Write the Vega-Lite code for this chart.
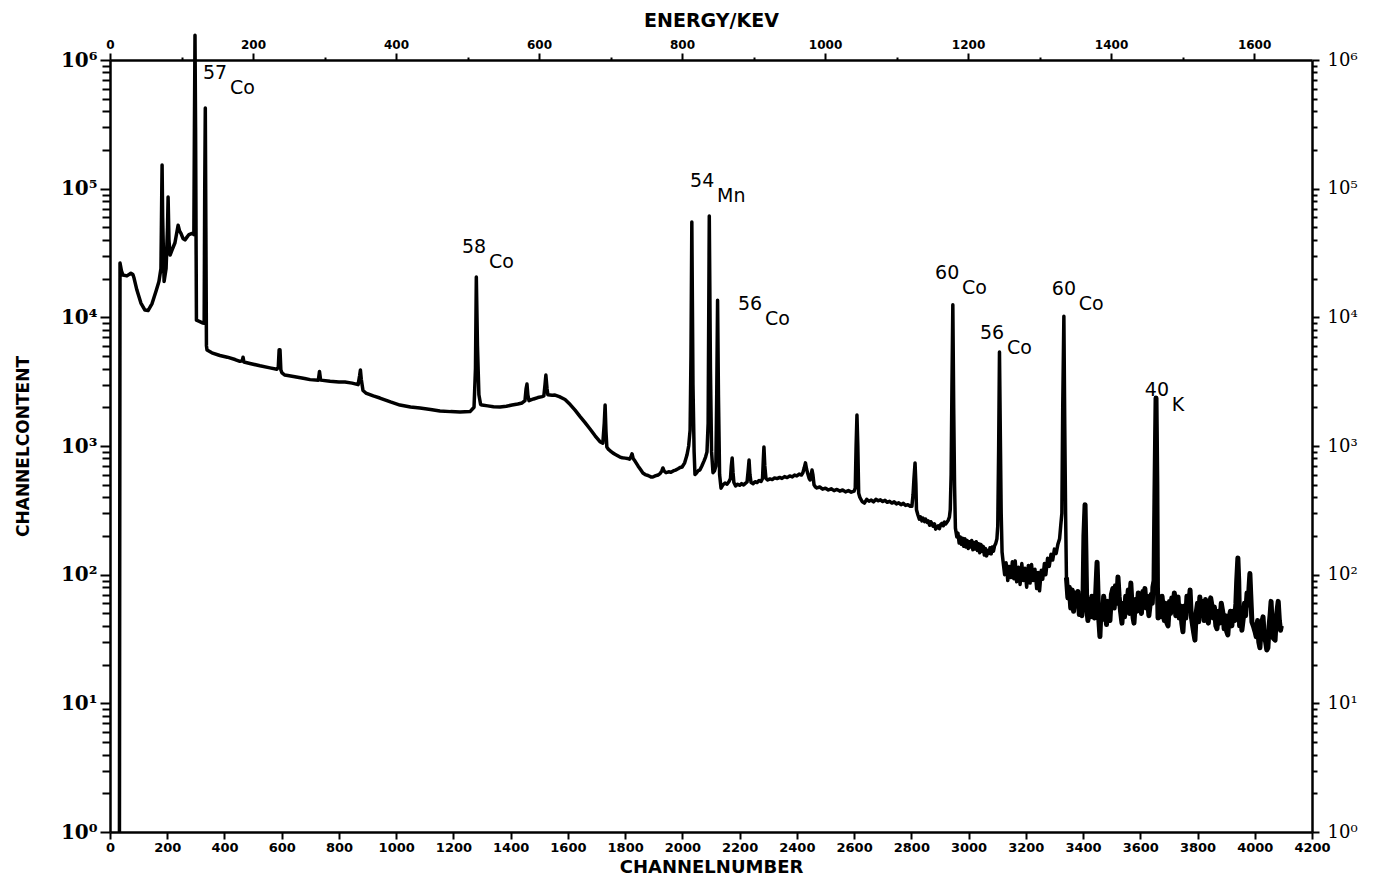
{
  "$schema": "https://vega.github.io/schema/vega-lite/v6.json",
  "width": 1202,
  "height": 772,
  "autosize": "none",
  "padding": {"left": 110, "top": 60, "right": 71, "bottom": 54},
  "background": "white",
  "config": {
    "view": {"stroke": null},
    "axis": {"domainColor": "black", "domainWidth": 2.5, "tickColor": "black", "tickWidth": 2, "labelColor": "black", "titleColor": "black", "grid": false}
  },
  "datasets": {
    "spectrum": [
      {"channel":33,"counts":1},{"channel":35,"counts":26400},{"channel":40,"counts":23000},{"channel":45,"counts":21300},{"channel":59,"counts":21000},{"channel":73,"counts":22000},{"channel":80,"counts":21500},{"channel":84,"counts":20200},{"channel":94,"counts":16300},{"channel":108,"counts":12900},{"channel":122,"counts":11400},{"channel":133,"counts":11300},{"channel":147,"counts":12800},{"channel":161,"counts":16000},{"channel":171,"counts":19000},{"channel":178,"counts":24000},{"channel":181,"counts":100000},{"channel":182,"counts":153000},{"channel":184,"counts":60000},{"channel":189,"counts":19000},{"channel":196,"counts":24000},{"channel":201,"counts":50000},{"channel":203,"counts":86000},{"channel":206,"counts":40000},{"channel":210,"counts":30500},{"channel":217,"counts":33400},{"channel":227,"counts":38000},{"channel":238,"counts":52000},{"channel":243,"counts":47000},{"channel":248,"counts":45000},{"channel":255,"counts":41000},{"channel":262,"counts":40000},{"channel":269,"counts":42000},{"channel":276,"counts":44000},{"channel":287,"counts":45000},{"channel":293,"counts":44000},{"channel":295,"counts":300000},{"channel":297,"counts":1560000},{"channel":299,"counts":300000},{"channel":302,"counts":9500},{"channel":312,"counts":9300},{"channel":325,"counts":9030},{"channel":329,"counts":9000},{"channel":331,"counts":100000},{"channel":333,"counts":424000},{"channel":335,"counts":50000},{"channel":337,"counts":6000},{"channel":339,"counts":5570},{"channel":356,"counts":5300},{"channel":384,"counts":5050},{"channel":410,"counts":4900},{"channel":437,"counts":4700},{"channel":454,"counts":4550},{"channel":462,"counts":4600},{"channel":465,"counts":4900},{"channel":468,"counts":4500},{"channel":489,"counts":4380},{"channel":524,"counts":4200},{"channel":559,"counts":4050},{"channel":583,"counts":3950},{"channel":588,"counts":4100},{"channel":591,"counts":5600},{"channel":594,"counts":5600},{"channel":597,"counts":3900},{"channel":601,"counts":3700},{"channel":611,"counts":3560},{"channel":646,"counts":3450},{"channel":680,"counts":3350},{"channel":699,"counts":3280},{"channel":728,"counts":3250},{"channel":732,"counts":3800},{"channel":736,"counts":3250},{"channel":769,"counts":3180},{"channel":800,"counts":3150},{"channel":821,"counts":3140},{"channel":846,"counts":3080},{"channel":867,"counts":3000},{"channel":872,"counts":3500},{"channel":875,"counts":3900},{"channel":878,"counts":3300},{"channel":884,"counts":2700},{"channel":894,"counts":2580},{"channel":920,"counts":2450},{"channel":943,"counts":2360},{"channel":980,"counts":2200},{"channel":1013,"counts":2080},{"channel":1050,"counts":2010},{"channel":1083,"counts":1970},{"channel":1120,"counts":1920},{"channel":1153,"counts":1870},{"channel":1190,"counts":1850},{"channel":1223,"counts":1840},{"channel":1258,"counts":1850},{"channel":1272,"counts":2000},{"channel":1277,"counts":4000},{"channel":1280,"counts":20600},{"channel":1284,"counts":6000},{"channel":1289,"counts":2500},
      {"channel":1295,"counts":2100},{"channel":1300,"counts":2080},{"channel":1320,"counts":2050},{"channel":1340,"counts":2020},{"channel":1363,"counts":2010},{"channel":1385,"counts":2040},{"channel":1405,"counts":2080},{"channel":1425,"counts":2120},{"channel":1440,"counts":2160},{"channel":1450,"counts":2250},{"channel":1454,"counts":2800},{"channel":1457,"counts":3030},{"channel":1460,"counts":2500},{"channel":1464,"counts":2250},{"channel":1480,"counts":2320},{"channel":1495,"counts":2380},{"channel":1510,"counts":2420},{"channel":1516,"counts":2450},{"channel":1520,"counts":3000},{"channel":1523,"counts":3560},{"channel":1527,"counts":2800},{"channel":1530,"counts":2500},{"channel":1545,"counts":2480},{"channel":1555,"counts":2490},{"channel":1570,"counts":2420},{"channel":1590,"counts":2300},{"channel":1608,"counts":2100},{"channel":1625,"counts":1900},{"channel":1642,"counts":1700},{"channel":1660,"counts":1520},{"channel":1678,"counts":1350},{"channel":1695,"counts":1200},{"channel":1712,"counts":1080},{"channel":1722,"counts":1050},{"channel":1727,"counts":1500},{"channel":1730,"counts":2080},{"channel":1733,"counts":1300},{"channel":1736,"counts":983},
      {"channel":1742,"counts":940},{"channel":1750,"counts":910},{"channel":1758,"counts":880},{"channel":1766,"counts":860},{"channel":1774,"counts":840},{"channel":1782,"counts":820},{"channel":1790,"counts":810},{"channel":1800,"counts":805},{"channel":1808,"counts":800},{"channel":1815,"counts":790},{"channel":1820,"counts":820},{"channel":1824,"counts":870},{"channel":1828,"counts":800},{"channel":1835,"counts":760},{"channel":1845,"counts":700},{"channel":1855,"counts":650},{"channel":1862,"counts":617},{"channel":1870,"counts":600},{"channel":1880,"counts":590},{"channel":1890,"counts":575},{"channel":1897,"counts":574},{"channel":1905,"counts":585},{"channel":1915,"counts":595},{"channel":1922,"counts":610},{"channel":1928,"counts":640},{"channel":1932,"counts":675},{"channel":1936,"counts":640},{"channel":1943,"counts":620},{"channel":1952,"counts":630},{"channel":1960,"counts":625},{"channel":1968,"counts":640},{"channel":1976,"counts":650},{"channel":1985,"counts":665},{"channel":1992,"counts":680},{"channel":1999,"counts":687},{"channel":2008,"counts":740},{"channel":2016,"counts":850},{"channel":2022,"counts":1000},{"channel":2027,"counts":1330},{"channel":2030,"counts":5000},{"channel":2033,"counts":55100},{"channel":2037,"counts":3000},{"channel":2041,"counts":900},{"channel":2044,"counts":600},{"channel":2050,"counts":620},{"channel":2056,"counts":645},{"channel":2061,"counts":650},{"channel":2068,"counts":700},{"channel":2075,"counts":760},{"channel":2081,"counts":820},{"channel":2086,"counts":900},{"channel":2090,"counts":1500},{"channel":2094,"counts":61300},{"channel":2098,"counts":4000},{"channel":2102,"counts":900},{"channel":2107,"counts":620},{"channel":2112,"counts":640},{"channel":2117,"counts":700},{"channel":2120,"counts":2500},{"channel":2123,"counts":13600},{"channel":2126,"counts":2500},{"channel":2130,"counts":600},
      {"channel":2135,"counts":470},{"channel":2142,"counts":500},{"channel":2149,"counts":515},{"channel":2156,"counts":505},{"channel":2163,"counts":530},{"channel":2168,"counts":560},{"channel":2171,"counts":700},{"channel":2174,"counts":807},{"channel":2177,"counts":620},{"channel":2180,"counts":520},{"channel":2186,"counts":490},{"channel":2193,"counts":505},{"channel":2200,"counts":495},{"channel":2207,"counts":510},{"channel":2214,"counts":498},{"channel":2220,"counts":512},{"channel":2226,"counts":525},{"channel":2230,"counts":650},{"channel":2233,"counts":778},{"channel":2236,"counts":600},{"channel":2240,"counts":520},{"channel":2247,"counts":510},{"channel":2254,"counts":528},{"channel":2261,"counts":520},{"channel":2268,"counts":540},{"channel":2275,"counts":530},{"channel":2280,"counts":560},{"channel":2283,"counts":800},{"channel":2285,"counts":983},{"channel":2288,"counts":700},{"channel":2292,"counts":560},{"channel":2298,"counts":544},{"channel":2306,"counts":555},{"channel":2314,"counts":548},{"channel":2322,"counts":565},{"channel":2331,"counts":558},{"channel":2340,"counts":570},{"channel":2348,"counts":560},{"channel":2357,"counts":578},{"channel":2366,"counts":568},{"channel":2375,"counts":585},{"channel":2384,"counts":575},{"channel":2392,"counts":595},{"channel":2400,"counts":585},{"channel":2408,"counts":605},{"channel":2416,"counts":595},{"channel":2421,"counts":620},{"channel":2426,"counts":680},{"channel":2430,"counts":740},{"channel":2434,"counts":660},{"channel":2439,"counts":600},{"channel":2443,"counts":560},{"channel":2446,"counts":544},{"channel":2450,"counts":600},{"channel":2453,"counts":650},{"channel":2456,"counts":600},{"channel":2460,"counts":500},{"channel":2465,"counts":480},
      {"channel":2470,"counts":472},{"channel":2480,"counts":480},{"channel":2490,"counts":462},{"channel":2500,"counts":470},{"channel":2510,"counts":455},{"channel":2520,"counts":465},{"channel":2530,"counts":450},{"channel":2540,"counts":460},{"channel":2550,"counts":446},{"channel":2560,"counts":455},{"channel":2570,"counts":440},{"channel":2580,"counts":450},{"channel":2590,"counts":438},{"channel":2600,"counts":446},{"channel":2604,"counts":470},{"channel":2607,"counts":1000},{"channel":2610,"counts":1740},{"channel":2613,"counts":1000},{"channel":2616,"counts":430},{"channel":2620,"counts":400},{"channel":2628,"counts":370},{"channel":2636,"counts":360},{"channel":2644,"counts":385},{"channel":2652,"counts":372},{"channel":2660,"counts":380},{"channel":2668,"counts":368},{"channel":2676,"counts":385},{"channel":2684,"counts":375},{"channel":2692,"counts":382},{"channel":2700,"counts":370},{"channel":2708,"counts":378},{"channel":2716,"counts":365},{"channel":2724,"counts":372},{"channel":2732,"counts":360},{"channel":2740,"counts":368},{"channel":2748,"counts":355},{"channel":2756,"counts":362},{"channel":2764,"counts":350},{"channel":2772,"counts":358},{"channel":2780,"counts":345},{"channel":2788,"counts":350},{"channel":2796,"counts":340},{"channel":2802,"counts":340},{"channel":2806,"counts":420},{"channel":2809,"counts":550},{"channel":2813,"counts":738},{"channel":2816,"counts":500},
      {"channel":2818,"counts":320},{"channel":2823,"counts":291},{"channel":2828,"counts":270},{"channel":2832,"counts":282},{"channel":2837,"counts":262},{"channel":2841,"counts":275},{"channel":2846,"counts":258},{"channel":2850,"counts":270},{"channel":2855,"counts":255},{"channel":2859,"counts":262},{"channel":2864,"counts":242},{"channel":2868,"counts":258},{"channel":2872,"counts":250},{"channel":2876,"counts":238},{"channel":2881,"counts":248},{"channel":2885,"counts":226},{"channel":2890,"counts":232},{"channel":2894,"counts":240},{"channel":2898,"counts":228},{"channel":2903,"counts":246},{"channel":2907,"counts":250},{"channel":2912,"counts":240},{"channel":2916,"counts":256},{"channel":2920,"counts":248},{"channel":2925,"counts":257},{"channel":2929,"counts":265},{"channel":2933,"counts":280},{"channel":2936,"counts":320},{"channel":2939,"counts":600},{"channel":2942,"counts":3000},{"channel":2945,"counts":12500},{"channel":2948,"counts":2000},{"channel":2951,"counts":500},{"channel":2954,"counts":230},
      {"channel":2959,"counts":196},{"channel":2963,"counts":210},{"channel":2967,"counts":176},{"channel":2971,"counts":196},{"channel":2975,"counts":172},{"channel":2979,"counts":192},{"channel":2983,"counts":166},{"channel":2987,"counts":190},{"channel":2991,"counts":164},{"channel":2995,"counts":184},{"channel":2999,"counts":160},{"channel":3003,"counts":180},{"channel":3007,"counts":164},{"channel":3011,"counts":184},{"channel":3015,"counts":156},{"channel":3019,"counts":178},{"channel":3023,"counts":158},{"channel":3027,"counts":180},{"channel":3031,"counts":154},{"channel":3035,"counts":174},{"channel":3039,"counts":148},{"channel":3043,"counts":172},{"channel":3047,"counts":152},{"channel":3051,"counts":166},{"channel":3055,"counts":142},{"channel":3059,"counts":160},{"channel":3063,"counts":140},{"channel":3067,"counts":154},{"channel":3071,"counts":146},{"channel":3075,"counts":162},{"channel":3079,"counts":145},{"channel":3083,"counts":164},{"channel":3087,"counts":152},{"channel":3091,"counts":168},{"channel":3095,"counts":175},{"channel":3099,"counts":190},{"channel":3102,"counts":240},{"channel":3105,"counts":900},{"channel":3108,"counts":5380},{"channel":3111,"counts":1200},{"channel":3114,"counts":300},{"channel":3117,"counts":150},
      {"channel":3120,"counts":130},{"channel":3126,"counts":100},{"channel":3131,"counts":124},{"channel":3137,"counts":90},{"channel":3142,"counts":116},{"channel":3148,"counts":95},{"channel":3153,"counts":126},{"channel":3158,"counts":93},{"channel":3163,"counts":128},{"channel":3168,"counts":88},{"channel":3174,"counts":114},{"channel":3180,"counts":84},{"channel":3186,"counts":122},{"channel":3192,"counts":90},{"channel":3197,"counts":112},{"channel":3203,"counts":80},{"channel":3209,"counts":118},{"channel":3215,"counts":86},{"channel":3220,"counts":120},{"channel":3226,"counts":90},{"channel":3232,"counts":110},{"channel":3238,"counts":78},{"channel":3243,"counts":104},{"channel":3248,"counts":75},{"channel":3254,"counts":108},{"channel":3259,"counts":92},{"channel":3265,"counts":122},{"channel":3270,"counts":100},{"channel":3276,"counts":134},{"channel":3282,"counts":116},{"channel":3288,"counts":144},{"channel":3294,"counts":130},{"channel":3300,"counts":158},{"channel":3306,"counts":146},{"channel":3312,"counts":172},{"channel":3318,"counts":190},{"channel":3322,"counts":240},{"channel":3326,"counts":300},{"channel":3329,"counts":2000},{"channel":3333,"counts":10200},{"channel":3336,"counts":1500},{"channel":3339,"counts":300},
      {"channel":3342,"counts":95},{"channel":3347,"counts":66},{"channel":3352,"counts":80},{"channel":3357,"counts":55},{"channel":3362,"counts":76},{"channel":3367,"counts":52},{"channel":3372,"counts":72},{"channel":3377,"counts":57},{"channel":3382,"counts":74},{"channel":3387,"counts":49},{"channel":3392,"counts":64},{"channel":3396,"counts":48},{"channel":3400,"counts":70},{"channel":3403,"counts":200},{"channel":3407,"counts":350},{"channel":3410,"counts":150},{"channel":3413,"counts":55},{"channel":3417,"counts":44},{"channel":3422,"counts":64},{"channel":3427,"counts":47},{"channel":3431,"counts":68},{"channel":3435,"counts":55},{"channel":3440,"counts":46},{"channel":3444,"counts":70},{"channel":3447,"counts":100},{"channel":3449,"counts":125},{"channel":3451,"counts":90},{"channel":3455,"counts":45},{"channel":3459,"counts":33},{"channel":3463,"counts":57},{"channel":3468,"counts":45},{"channel":3472,"counts":68},{"channel":3477,"counts":55},{"channel":3482,"counts":41},{"channel":3487,"counts":62},{"channel":3491,"counts":47},{"channel":3494,"counts":44},{"channel":3499,"counts":70},{"channel":3504,"counts":78},{"channel":3509,"counts":55},{"channel":3513,"counts":82},{"channel":3518,"counts":60},{"channel":3522,"counts":96},{"channel":3526,"counts":68},{"channel":3531,"counts":52},{"channel":3536,"counts":42},{"channel":3540,"counts":60},{"channel":3545,"counts":47},{"channel":3549,"counts":68},{"channel":3553,"counts":57},{"channel":3558,"counts":76},{"channel":3562,"counts":50},{"channel":3567,"counts":86},{"channel":3571,"counts":58},{"channel":3575,"counts":46},{"channel":3578,"counts":42},{"channel":3583,"counts":64},{"channel":3588,"counts":52},{"channel":3593,"counts":72},{"channel":3599,"counts":61},{"channel":3604,"counts":50},{"channel":3609,"counts":74},{"channel":3612,"counts":58},{"channel":3616,"counts":78},{"channel":3621,"counts":55},{"channel":3625,"counts":68},{"channel":3630,"counts":48},{"channel":3634,"counts":58},{"channel":3638,"counts":70},{"channel":3642,"counts":60},{"channel":3644,"counts":80},{"channel":3648,"counts":90},{"channel":3651,"counts":400},{"channel":3655,"counts":2360},{"channel":3658,"counts":500},{"channel":3660,"counts":80},{"channel":3662,"counts":46},{"channel":3667,"counts":58},{"channel":3672,"counts":47},{"channel":3676,"counts":68},{"channel":3679,"counts":58},{"channel":3684,"counts":44},{"channel":3688,"counts":60},{"channel":3693,"counts":42},{"channel":3697,"counts":40},{"channel":3702,"counts":62},{"channel":3706,"counts":50},{"channel":3710,"counts":66},{"channel":3714,"counts":53},{"channel":3719,"counts":72},{"channel":3724,"counts":48},{"channel":3728,"counts":64},{"channel":3732,"counts":67},{"channel":3736,"counts":46},{"channel":3741,"counts":57},{"channel":3745,"counts":42},{"channel":3749,"counts":36},{"channel":3754,"counts":57},{"channel":3759,"counts":46},{"channel":3763,"counts":68},{"channel":3769,"counts":55},{"channel":3774,"counts":76},{"channel":3778,"counts":48},{"channel":3783,"counts":40},{"channel":3787,"counts":35},{"channel":3791,"counts":31},{"channel":3795,"counts":50},{"channel":3800,"counts":60},{"channel":3804,"counts":43},{"channel":3808,"counts":67},{"channel":3813,"counts":50},{"channel":3818,"counts":62},{"channel":3823,"counts":44},{"channel":3828,"counts":64},{"channel":3833,"counts":50},{"channel":3838,"counts":42},{"channel":3842,"counts":58},{"channel":3846,"counts":66},{"channel":3850,"counts":58},{"channel":3855,"counts":46},{"channel":3859,"counts":56},{"channel":3864,"counts":40},{"channel":3868,"counts":38},{"channel":3873,"counts":52},{"channel":3878,"counts":42},{"channel":3883,"counts":60},{"channel":3889,"counts":50},{"channel":3893,"counts":38},{"channel":3898,"counts":48},{"channel":3902,"counts":36},{"channel":3906,"counts":34},{"channel":3910,"counts":46},{"channel":3915,"counts":52},{"channel":3920,"counts":40},{"channel":3924,"counts":52},{"channel":3930,"counts":44},{"channel":3934,"counts":60},{"channel":3937,"counts":90},{"channel":3941,"counts":135},{"channel":3944,"counts":90},{"channel":3947,"counts":40},{"channel":3951,"counts":52},{"channel":3955,"counts":37},{"channel":3960,"counts":46},{"channel":3964,"counts":60},{"channel":3968,"counts":48},{"channel":3973,"counts":72},{"channel":3977,"counts":58},{"channel":3980,"counts":80},{"channel":3983,"counts":102},{"channel":3986,"counts":70},{"channel":3990,"counts":43},{"channel":3995,"counts":40},{"channel":4001,"counts":36},{"channel":4005,"counts":33},{"channel":4010,"counts":44},{"channel":4014,"counts":30},{"channel":4018,"counts":27},{"channel":4022,"counts":38},{"channel":4026,"counts":44},{"channel":4029,"counts":47},{"channel":4033,"counts":33},{"channel":4038,"counts":30},{"channel":4042,"counts":26},{"channel":4046,"counts":27},{"channel":4050,"counts":40},{"channel":4054,"counts":50},{"channel":4057,"counts":62},{"channel":4061,"counts":40},{"channel":4065,"counts":32},{"channel":4071,"counts":31},{"channel":4075,"counts":46},{"channel":4079,"counts":55},{"channel":4082,"counts":62},{"channel":4086,"counts":44},{"channel":4090,"counts":37},{"channel":4093,"counts":40}
    ],
    "labels": [
      {"channel":325,"counts":792000,"mass":"57","element":"Co"},
      {"channel":1230,"counts":35200,"mass":"58","element":"Co"},
      {"channel":2027,"counts":114600,"mass":"54","element":"Mn"},
      {"channel":2194,"counts":12700,"mass":"56","element":"Co"},
      {"channel":2883,"counts":22100,"mass":"60","element":"Co"},
      {"channel":3040,"counts":7550,"mass":"56","element":"Co"},
      {"channel":3291,"counts":16600,"mass":"60","element":"Co"},
      {"channel":3616,"counts":2720,"mass":"40","element":"K"}
    ],
    "energyAxis": [{"energy":0},{"energy":1681}]
  },
  "layer": [
    {
      "layer": [
        {
          "data": {"name": "spectrum"},
          "mark": {"type": "line", "color": "black", "strokeWidth": 3.5, "strokeJoin": "round", "clip": false},
          "encoding": {
            "x": {
              "field": "channel", "type": "quantitative",
              "scale": {"domain": [0, 4200], "nice": false, "zero": false},
              "axis": {
                "orient": "bottom", "title": "CHANNELNUMBER",
                "values": [0,100,200,300,400,500,600,700,800,900,1000,1100,1200,1300,1400,1500,1600,1700,1800,1900,2000,2100,2200,2300,2400,2500,2600,2700,2800,2900,3000,3100,3200,3300,3400,3500,3600,3700,3800,3900,4000,4100,4200],
                "format": "d",
                "labelExpr": "datum.value % 200 == 0 ? datum.label : ''",
                "tickSize": {"condition": {"test": "datum.value % 200 == 0", "value": 7}, "value": 4},
                "labelFont": "DejaVu Sans", "labelFontWeight": "bold", "labelFontSize": 13, "labelPadding": 2,
                "labelOverlap": false, "labelFlush": false,
                "titleFont": "DejaVu Sans", "titleFontWeight": "bold", "titleFontSize": 18, "titlePadding": 4
              }
            },
            "y": {
              "field": "counts", "type": "quantitative",
              "scale": {"type": "log", "domain": [1, 1000000], "nice": false},
              "axis": {
                "orient": "left", "title": "CHANNELCONTENT",
                "values": [1,2,3,4,5,6,7,8,9,10,20,30,40,50,60,70,80,90,100,200,300,400,500,600,700,800,900,1000,2000,3000,4000,5000,6000,7000,8000,9000,10000,20000,30000,40000,50000,60000,70000,80000,90000,100000,200000,300000,400000,500000,600000,700000,800000,900000,1000000],
                "labelExpr": "abs(log(datum.value)/LN10 - round(log(datum.value)/LN10)) < 0.001 ? '10' + substring('⁰¹²³⁴⁵⁶', round(log(datum.value)/LN10), round(log(datum.value)/LN10) + 1) : ''",
                "tickSize": {"condition": {"test": "abs(log(datum.value)/LN10 - round(log(datum.value)/LN10)) < 0.001", "value": 10}, "value": 8},
                "labelFont": "DejaVu Serif", "labelFontWeight": "bold", "labelFontSize": 20, "labelPadding": 3,
                "labelOverlap": false, "labelFlush": false,
                "titleFont": "DejaVu Sans", "titleFontWeight": "bold", "titleFontSize": 17, "titlePadding": 28
              }
            }
          }
        },
        {
          "data": {"name": "spectrum"},
          "transform": [{"filter": "datum.channel >= 3340"}],
          "mark": {"type": "line", "color": "black", "strokeWidth": 5, "strokeJoin": "round", "clip": false},
          "encoding": {
            "x": {"field": "channel", "type": "quantitative"},
            "y": {"field": "counts", "type": "quantitative"}
          }
        },
        {
          "data": {"name": "labels"},
          "mark": {"type": "text", "align": "left", "baseline": "middle", "font": "DejaVu Sans", "fontSize": 19, "color": "black"},
          "encoding": {
            "x": {"field": "channel", "type": "quantitative"},
            "y": {"field": "counts", "type": "quantitative"},
            "text": {"field": "mass"}
          }
        },
        {
          "data": {"name": "labels"},
          "mark": {"type": "text", "align": "left", "baseline": "middle", "font": "DejaVu Sans", "fontSize": 19, "color": "black", "dx": 27, "dy": 15},
          "encoding": {
            "x": {"field": "channel", "type": "quantitative"},
            "y": {"field": "counts", "type": "quantitative"},
            "text": {"field": "element"}
          }
        }
      ]
    },
    {
      "data": {"name": "energyAxis"},
      "mark": {"type": "point", "opacity": 0},
      "encoding": {
        "x": {
          "field": "energy", "type": "quantitative",
          "scale": {"domain": [0, 1681], "nice": false, "zero": false},
          "axis": {
            "orient": "top", "title": "ENERGY/KEV",
            "values": [0,100,200,300,400,500,600,700,800,900,1000,1100,1200,1300,1400,1500,1600],
            "format": "d",
            "labelExpr": "datum.value % 200 == 0 ? datum.label : ''",
            "tickSize": {"condition": {"test": "datum.value % 200 == 0", "value": 7}, "value": 3},
            "labelFont": "DejaVu Sans", "labelFontWeight": "bold", "labelFontSize": 12, "labelPadding": 2,
            "labelOverlap": false, "labelFlush": false,
            "titleFont": "DejaVu Sans", "titleFontWeight": "bold", "titleFontSize": 19, "titlePadding": 8
          }
        },
        "y": {
          "datum": 1, "type": "quantitative",
          "scale": {"type": "log", "domain": [1, 1000000], "nice": false},
          "axis": {
            "orient": "right", "title": null,
            "values": [1,2,3,4,5,6,7,8,9,10,20,30,40,50,60,70,80,90,100,200,300,400,500,600,700,800,900,1000,2000,3000,4000,5000,6000,7000,8000,9000,10000,20000,30000,40000,50000,60000,70000,80000,90000,100000,200000,300000,400000,500000,600000,700000,800000,900000,1000000],
            "labelExpr": "abs(log(datum.value)/LN10 - round(log(datum.value)/LN10)) < 0.001 ? '10' + substring('⁰¹²³⁴⁵⁶', round(log(datum.value)/LN10), round(log(datum.value)/LN10) + 1) : ''",
            "tickSize": {"condition": {"test": "abs(log(datum.value)/LN10 - round(log(datum.value)/LN10)) < 0.001", "value": 7}, "value": 5},
            "labelFont": "DejaVu Serif", "labelFontSize": 18, "labelPadding": 8,
            "labelOverlap": false, "labelFlush": false
          }
        }
      }
    }
  ],
  "resolve": {"scale": {"x": "independent", "y": "independent"}}
}
